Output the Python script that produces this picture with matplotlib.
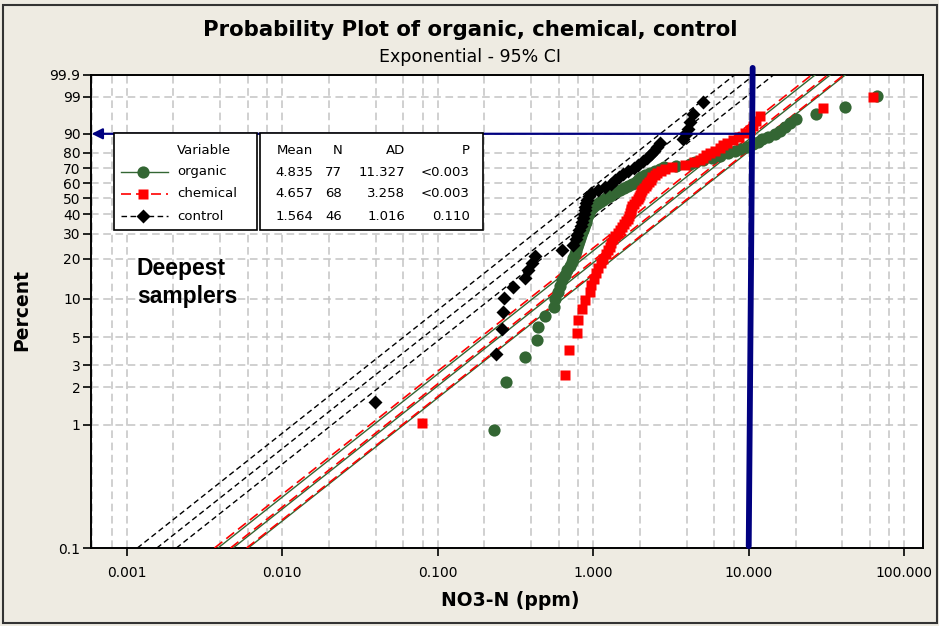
import numpy as np
import matplotlib
matplotlib.use('Agg')
import matplotlib.pyplot as plt
from matplotlib.ticker import FixedLocator, NullFormatter, LogLocator
from matplotlib.lines import Line2D
from matplotlib.patches import Rectangle

# NO3-N values (ppm), sorted
organic = [0.231, 0.275, 0.365, 0.435, 0.441, 0.491, 0.556, 0.570, 0.598, 0.613,
           0.632, 0.661, 0.681, 0.711, 0.733, 0.744, 0.766, 0.777, 0.789, 0.801,
           0.813, 0.825, 0.837, 0.850, 0.862, 0.875, 0.888, 0.895, 0.902, 0.915,
           0.929, 0.942, 0.956, 0.985, 1.01, 1.06, 1.11, 1.16, 1.21, 1.29,
           1.33, 1.41, 1.49, 1.58, 1.68, 1.78, 1.86, 1.92, 1.98, 2.03,
           2.16, 2.32, 2.50, 2.70, 2.86, 3.42, 4.21, 4.53, 5.10, 5.83,
           6.56, 7.39, 8.17, 8.8, 9.8, 10.6, 11.5, 12.2, 13.3, 14.8,
           15.9, 17.1, 18.5, 20.2, 27.2, 41.7, 67.0]
chemical = [0.0791, 0.661, 0.694, 0.786, 0.797, 0.846, 0.888, 0.956, 0.97, 1.01,
            1.05, 1.08, 1.12, 1.16, 1.20, 1.24, 1.28, 1.31, 1.35, 1.39,
            1.45, 1.49, 1.54, 1.58, 1.63, 1.67, 1.69, 1.72, 1.74, 1.76,
            1.78, 1.83, 1.88, 1.93, 1.96, 1.99, 2.02, 2.07, 2.11, 2.17,
            2.22, 2.27, 2.34, 2.39, 2.49, 2.58, 2.73, 2.90, 3.22, 3.90,
            4.46, 4.88, 5.10, 5.33, 5.65, 6.09, 6.56, 6.85, 7.27, 7.95,
            8.7, 9.4, 10.2, 10.7, 11.2, 11.8, 30.1, 63.2]
control = [0.0397, 0.238, 0.260, 0.264, 0.268, 0.306, 0.365, 0.382, 0.405, 0.424,
           0.632, 0.74, 0.77, 0.79, 0.81, 0.84, 0.85, 0.86, 0.875, 0.88,
           0.89, 0.90, 0.915, 0.94, 0.97, 1.08, 1.19, 1.31, 1.39, 1.47,
           1.56, 1.68, 1.83, 1.95, 2.10, 2.22, 2.36, 2.47, 2.58, 2.70,
           3.79, 3.96, 4.08, 4.20, 4.40, 5.10]

names = ['organic', 'chemical', 'control']
means = [4.835, 4.657, 1.564]
counts = [77, 68, 46]
ad_vals = ['11.327', '3.258', '1.016']
p_vals = ['<0.003', '<0.003', '0.110']

pct_ticks = [0.1, 1, 2, 3, 5, 10, 20, 30, 40, 50, 60, 70, 80, 90, 99, 99.9]
pct_labels = ['0.1', '1', '2', '3', '5', '10', '20', '30', '40', '50',
              '60', '70', '80', '90', '99', '99.9']
x_ticks = [0.001, 0.01, 0.1, 1, 10, 100]
x_labels = ['0.001', '0.010', '0.100', '1.000', '10.000', '100.000']

GREEN = '#336633'
NAVY = '#000080'
BG = '#EEEBE2'
W, H = 939, 626


def fx(px):
    return px / W


def fy(py):
    return 1 - py / H


def fwd(p):
    p = np.clip(np.asarray(p, dtype=float), 1e-6, 100 - 1e-6)
    return np.log(-np.log(1 - p / 100.0))


def inv(y):
    return 100.0 * (1 - np.exp(-np.exp(np.asarray(y, dtype=float))))


fig = plt.figure(figsize=(W / 100, H / 100), dpi=100, facecolor=BG)
ax = fig.add_axes([fx(91), fy(548), fx(923) - fx(91), (548 - 75) / H])
ax.set_facecolor('white')
ax.set_xscale('log')
ax.set_yscale('function', functions=(fwd, inv))
ax.set_xlim(5.9e-4, 132)
ax.set_ylim(0.1, 99.9)

# grid
ax.xaxis.set_major_locator(FixedLocator(x_ticks))
ax.xaxis.set_minor_locator(LogLocator(base=10, subs=[2, 4, 6, 8], numticks=20))
ax.xaxis.set_minor_formatter(NullFormatter())
ax.set_xticklabels(x_labels)
ax.yaxis.set_major_locator(FixedLocator(pct_ticks))
ax.yaxis.set_minor_locator(FixedLocator([]))
ax.set_yticklabels(pct_labels)
ax.grid(True, which='both', color='#c4c4c4', lw=1.1, linestyle=(0, (5, 3)))
ax.tick_params(which='major', direction='out', length=6, width=1.2,
               labelsize=10, top=False, right=False)
ax.tick_params(axis='x', pad=7)
ax.tick_params(axis='y', pad=1.5)
ax.tick_params(which='minor', length=0)
for s in ax.spines.values():
    s.set_linewidth(1.4)

# fitted lines and 95% CI
styles = {
    'organic': dict(color=GREEN, lw=1.0, ls='-'),
    'chemical': dict(color='red', lw=1.2, dashes=(6, 3)),
    'control': dict(color='black', lw=1.0, dashes=(4, 2.5)),
}
markers = {
    'organic': dict(marker='o', color=GREEN, ms=8.8),
    'chemical': dict(marker='s', color='red', ms=7.6),
    'control': dict(marker='D', color='black', ms=7),
}
data = {'organic': organic, 'chemical': chemical, 'control': control}

pline = inv(np.linspace(fwd(0.1), fwd(99.9), 30))
for name, m, n in zip(names, means, counts):
    q = -np.log(1 - pline / 100.0)
    f = np.exp(1.96 / np.sqrt(n))
    for k in (1 / f, 1.0, f):
        ax.plot(m * k * q, pline, zorder=3, **styles[name])

for name in names:
    x = np.sort(np.array(data[name]))
    n = len(x)
    pct = 100 * (np.arange(1, n + 1) - 0.3) / (n + 0.4)
    ax.plot(x, pct, ls='none', mec='none', zorder=4, **markers[name])

# reference lines
ax.plot([10.0, 10.6], [0.004, 1.015], color=NAVY, lw=4.2, solid_capstyle='round',
        transform=ax.get_xaxis_transform(), clip_on=False, zorder=6)
ax.annotate('', xy=(5.95e-4, 90), xytext=(10.5, 90),
            arrowprops=dict(arrowstyle='-|>', color=NAVY, lw=1.6,
                            mutation_scale=16, shrinkA=0, shrinkB=0),
            zorder=6, annotation_clip=False)

# titles and labels
fig.text(fx(470), fy(30), 'Probability Plot of organic, chemical, control',
         ha='center', va='center', fontsize=15.3, fontweight='bold')
fig.text(fx(470), fy(57), 'Exponential - 95% CI', ha='center', va='center',
         fontsize=12.5)
fig.text(fx(22), fy(310), 'Percent', rotation=90, ha='center', va='center',
         fontsize=13.5, fontweight='bold')
fig.text(fx(510), fy(601), 'NO3-N (ppm)', ha='center', va='center',
         fontsize=13.5, fontweight='bold')
fig.text(fx(137), fy(268), 'Deepest', ha='left', va='center', fontsize=16.5,
         fontweight='bold', family='Liberation Sans')
fig.text(fx(137), fy(297), 'samplers', ha='left', va='center', fontsize=16.5,
         fontweight='bold', family='Liberation Sans')

# legend boxes
for x0, x1 in [(114, 257), (260, 483)]:
    fig.add_artist(Rectangle((fx(x0), fy(230)), fx(x1) - fx(x0), (230 - 133) / H,
                             transform=fig.transFigure, facecolor='white',
                             edgecolor='black', lw=1.2, zorder=7))
rows = [150, 172, 194, 216]
lfs = 9.5
fig.text(fx(177), fy(rows[0]), 'Variable', ha='left', va='center', fontsize=lfs, zorder=8)
for col, xr in zip(['Mean', 'N', 'AD', 'P'], [313, 342, 405, 470]):
    fig.text(fx(xr), fy(rows[0]), col, ha='right', va='center', fontsize=lfs, zorder=8)
for i, name in enumerate(names):
    yy = fy(rows[i + 1])
    st = dict(styles[name])
    fig.add_artist(Line2D([fx(121), fx(168)], [yy, yy], transform=fig.transFigure,
                          zorder=8, **st))
    fig.add_artist(Line2D([fx(143)], [yy], transform=fig.transFigure, ls='none',
                          mec='none', zorder=9, **markers[name]))
    fig.text(fx(177), yy, name, ha='left', va='center', fontsize=lfs, zorder=8)
    vals = ['%.3f' % means[i], str(counts[i]), ad_vals[i], p_vals[i]]
    for v, xr in zip(vals, [313, 342, 405, 470]):
        fig.text(fx(xr), yy, v, ha='right', va='center', fontsize=lfs, zorder=8)

# outer frame
fig.add_artist(Rectangle((fx(3), fy(623)), fx(937) - fx(3), (623 - 5) / H,
                         transform=fig.transFigure, facecolor='none',
                         edgecolor='#333333', lw=1.5, zorder=10))

fig.savefig('out.png', dpi=100, facecolor=BG)
